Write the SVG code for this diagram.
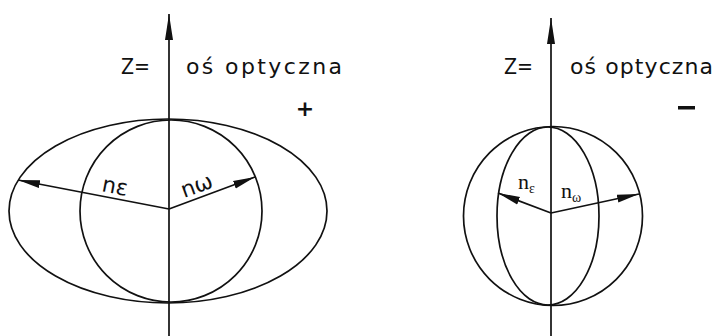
<svg xmlns="http://www.w3.org/2000/svg" width="723" height="336" viewBox="0 0 723 336">
<defs>
<style>
.ln{stroke:#111;stroke-width:1.7;fill:none}
.lbl{font-family:"DejaVu Sans","Liberation Sans",sans-serif;font-size:22px;fill:#111}
.ser{font-family:"Liberation Serif","DejaVu Serif",serif;fill:#111}
</style>
<marker id="ah" viewBox="0 0 22 10" refX="22" refY="5" markerWidth="22" markerHeight="10" markerUnits="userSpaceOnUse" orient="auto">
<path d="M0,1 L22,5 L0,9 Z" fill="#111"/>
</marker>
<marker id="ax" viewBox="0 0 10 26" refX="5" refY="0" markerWidth="10" markerHeight="26" markerUnits="userSpaceOnUse" orient="0">
<path d="M5,0 L9,26 L1,26 Z" fill="#111"/>
</marker>
</defs>
<rect width="723" height="336" fill="#fff"/>
<g id="left-figure">
<ellipse class="ln" cx="168" cy="211" rx="159" ry="92"/>
<circle class="ln" cx="171" cy="211" r="91"/>
<text class="lbl" x="121" y="74" textLength="29" lengthAdjust="spacingAndGlyphs">Z=</text>
<text class="lbl" x="186" y="74" textLength="156" lengthAdjust="spacing">oś optyczna</text>
<text class="lbl" x="305" y="116" text-anchor="middle" font-size="26" font-weight="bold">+</text>
<text class="lbl" transform="translate(101,191) rotate(11)" font-size="20">nε</text>
<text class="lbl" transform="translate(184,198) rotate(-20)" font-size="20">nω</text>
</g>
<g id="right-figure">
<circle class="ln" cx="553" cy="216" r="89.5"/>
<ellipse class="ln" cx="548" cy="216" rx="51" ry="89"/>
<text class="lbl" x="504" y="74" textLength="29" lengthAdjust="spacingAndGlyphs">Z=</text>
<text class="lbl" x="570" y="74" textLength="143" lengthAdjust="spacing">oś optyczna</text>
<rect x="678" y="106" width="17" height="3.5" fill="#111"/>
<text class="ser" x="518" y="189" font-size="22">n<tspan font-size="14" dy="4">ε</tspan></text>
<text class="ser" x="561" y="198" font-size="22">n<tspan font-size="14" dy="4">ω</tspan></text>
</g>
<g id="connectors">
<line class="ln" x1="169" y1="336" x2="169" y2="14" marker-end="url(#ax)"/>
<line class="ln" x1="551" y1="336" x2="551" y2="18" marker-end="url(#ax)"/>
<path class="ln" d="M169,209 L18,180" marker-end="url(#ah)"/>
<path class="ln" d="M169,209 L255,177" marker-end="url(#ah)"/>
<path class="ln" d="M551,213 L498,193" marker-end="url(#ah)"/>
<path class="ln" d="M551,213 L639,194" marker-end="url(#ah)"/>
</g>
</svg>
